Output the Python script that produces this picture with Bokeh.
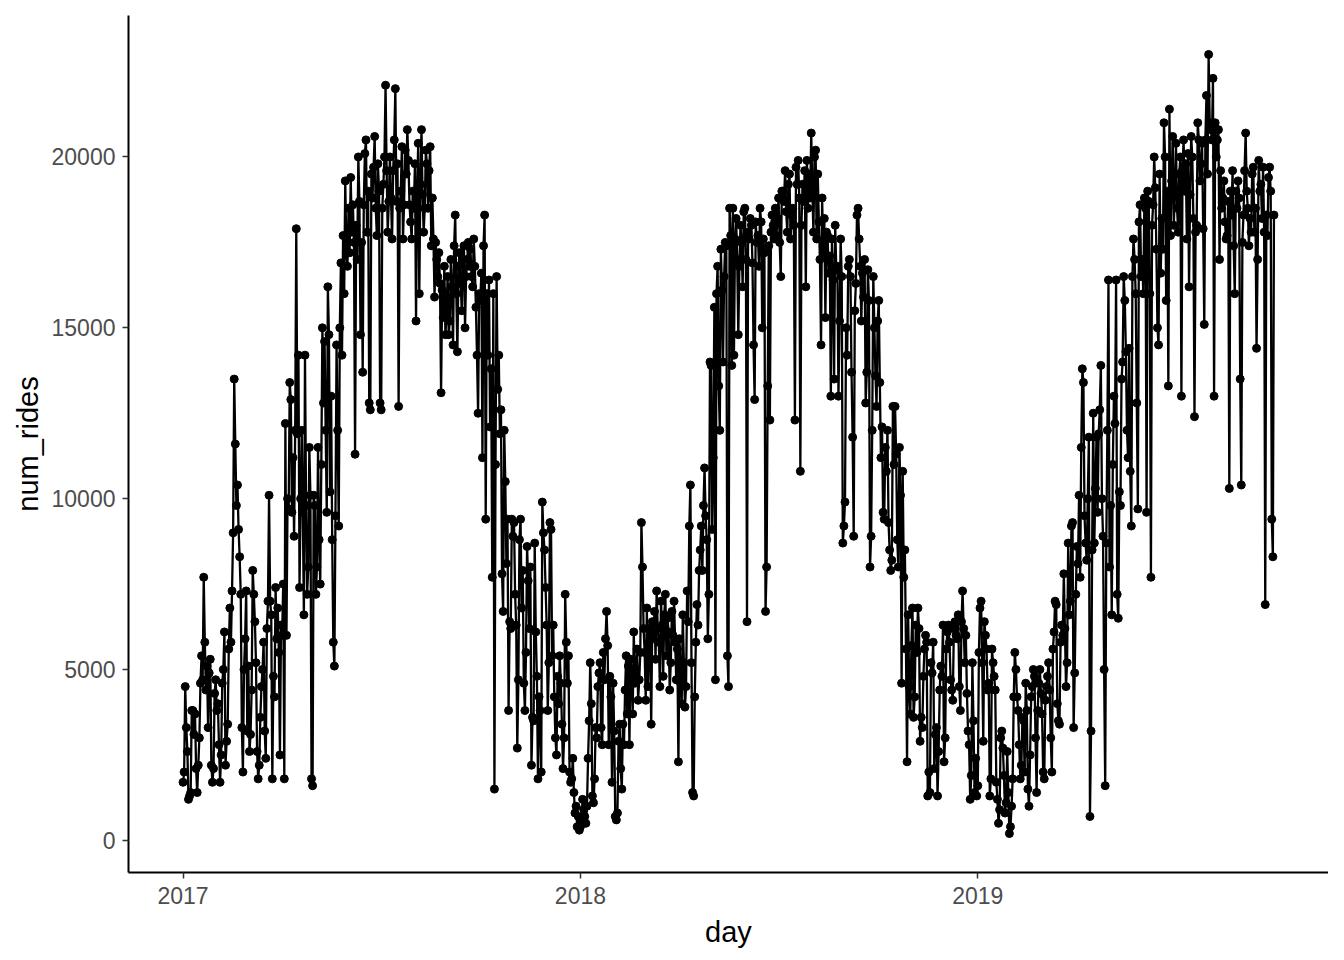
import datetime as dt
from bokeh.plotting import figure
from bokeh.models import FixedTicker, DatetimeTickFormatter, Range1d, ColumnDataSource
from bokeh.embed import file_html
from bokeh.resources import INLINE

# Daily ride counts, in hundreds of rides (one list per month)
jan_2017 = [17, 20, 45, 33, 26, 12, 13, 14, 38, 38, 31, 37, 21, 14, 22, 30, 46, 54, 47, 77, 58,
            44, 51, 33, 49, 53, 22, 17, 21, 43, 47]
feb_2017 = [38, 40, 28, 17, 25, 46, 50, 61, 22, 29, 34, 56, 68, 58, 73, 90, 135, 116,
            98, 104, 91, 83, 72, 33, 20, 50, 59, 73]
mar_2017 = [32, 51, 26, 31, 44, 79, 72, 64, 52, 26, 18, 22, 36, 45, 50, 58, 32, 24,
            62, 70, 101, 70, 66, 18, 48, 42, 74, 59, 68, 55, 25]
apr_2017 = [63, 60, 75, 18, 122, 60, 100, 97, 134, 129, 96, 112, 89, 120, 179,
            119, 142, 74, 100, 120, 96, 66, 142, 98, 72, 80, 115, 101, 18, 16]
may_2017 = [101, 98, 72, 80, 115, 88, 75, 110, 150, 128, 146, 120, 96, 162, 148, 102, 130, 88, 58, 51,
            95, 145, 120, 92, 150, 169, 142, 177, 160, 193, 172]
jun_2017 = [168, 185, 172, 194, 178, 186, 175, 113, 180, 170, 200, 187, 148, 175, 137, 186, 201,
            205, 178, 190, 128, 126, 195, 188, 197, 206, 185, 177, 198, 190]
jul_2017 = [128, 126, 185, 192, 200, 221, 196, 178, 187, 200, 188, 176, 196, 205, 220,
            187, 198, 127, 185, 190, 203, 176, 186, 202, 195, 208, 199, 186, 181, 176, 190]
aug_2017 = [185, 198, 152, 190, 204, 160, 192, 208, 189, 178, 185, 202, 198, 185, 196, 203, 174, 188, 176,
            159, 175, 170, 165, 172, 163, 131, 161, 153, 168, 148, 154]
sep_2017 = [165, 148, 152, 170, 162, 145, 174, 183, 160, 143, 168, 172, 163, 155, 170, 174,
            150, 165, 170, 175, 168, 173, 165, 162, 176, 168, 156, 142, 125, 160]
oct_2017 = [158, 166, 112, 174, 183, 94, 160, 142, 164, 121, 138, 77, 160, 15, 110, 165, 132, 142, 119, 126, 78,
            67, 120, 105, 81, 94, 38, 64, 62, 94, 89]
nov_2017 = [93, 72, 63, 27, 47, 88, 94, 68, 79, 46, 38, 55, 86, 76, 62, 80, 22, 36,
            35, 87, 61, 48, 18, 42, 38, 20, 99, 90, 85, 74]
dec_2017 = [63, 38, 52, 93, 91, 54, 63, 42, 30, 25, 48, 40, 54, 46, 34, 21, 30, 72, 58, 46, 54, 20, 17,
            18, 24, 14, 8, 10, 4, 7, 3]

jan_2018 = [4, 6, 12, 9, 7, 5, 10, 24, 35, 52, 40, 13, 11, 18, 33, 30, 45, 49, 52, 33,
            28, 55, 47, 59, 67, 57, 28, 48, 42, 17, 46]
feb_2018 = [32, 7, 6, 8, 29, 34, 21, 15, 34, 28, 44, 54, 37, 51, 28, 53, 49,
            37, 61, 46, 50, 56, 41, 47, 55, 93, 80, 62]
mar_2018 = [55, 41, 68, 45, 62, 60, 34, 64, 59, 67, 53, 73, 62, 58, 45, 70, 63,
            48, 66, 72, 54, 65, 61, 44, 52, 67, 60, 70, 58, 47, 56]
apr_2018 = [23, 59, 46, 40, 66, 52, 39, 45, 73, 64, 92, 104, 52, 14, 13, 42, 58, 69, 63, 79, 85,
            92, 79, 98, 109, 95, 88, 59, 72, 140]
may_2018 = [139, 91, 112, 156, 47, 160, 168, 133, 120, 173, 161, 140, 165, 175, 174, 54, 45, 185, 177,
            139, 185, 142, 176, 182, 170, 148, 168, 180, 175, 162, 184]
jun_2018 = [185, 170, 64, 178, 176, 182, 180, 169, 145, 129, 181, 175, 177, 168, 185, 181,
            150, 176, 172, 67, 80, 133, 174, 123, 178, 183, 180, 176, 185, 177]
jul_2018 = [182, 188, 175, 165, 190, 190, 187, 196, 184, 178, 192, 195, 176, 183, 185, 180, 123, 197, 192, 199, 188,
            108, 180, 192, 187, 196, 162, 199, 185, 195, 188]
aug_2018 = [207, 190, 178, 200, 202, 176, 195, 181, 170, 145, 188, 172, 182, 153, 178, 177, 166, 171,
            130, 176, 164, 135, 180, 167, 168, 130, 152, 176, 165, 87, 92]
sep_2018 = [99, 150, 142, 168, 170, 165, 137, 118, 89, 155, 163, 183, 185, 176, 168,
            152, 166, 159, 170, 128, 137, 167, 158, 80, 89, 120, 165, 150, 136, 127]
oct_2018 = [152, 158, 134, 112, 121, 96, 94, 115, 108, 120, 93, 85, 79, 82, 127, 110, 127, 113, 88, 80,
            115, 101, 46, 108, 77, 85, 56, 23, 66, 45, 37]
nov_2018 = [57, 68, 36, 42, 63, 55, 68, 62, 29, 36, 33, 48, 56, 60, 58, 13, 20,
            14, 52, 49, 58, 21, 31, 33, 13, 26, 44, 51, 48, 63]
dec_2018 = [23, 30, 56, 61, 63, 58, 47, 44, 41, 62, 64, 60, 59, 66, 45, 38, 64, 73, 62, 52, 60, 43,
            32, 28, 12, 19, 52, 35, 14, 24, 13]

jan_2019 = [16, 55, 68, 70, 52, 29, 64, 60, 56, 44, 46, 13, 18, 56, 52, 48, 44, 17, 12,
            5, 9, 30, 32, 27, 19, 8, 11, 26, 14, 2, 4]
feb_2019 = [10, 18, 42, 55, 50, 42, 38, 28, 18, 22, 36, 35, 20, 46, 38, 15,
            10, 25, 42, 45, 50, 48, 30, 14, 38, 46, 50, 43]
mar_2019 = [37, 20, 18, 41, 45, 48, 52, 44, 30, 20, 56, 61, 70, 69, 40, 35,
            34, 58, 63, 60, 78, 62, 45, 52, 87, 66, 70, 92, 93, 33, 49]
apr_2019 = [72, 86, 81, 101, 77, 115, 138, 134, 95, 87, 82, 100, 118, 7, 32, 85, 125, 87, 103, 118,
            96, 119, 126, 139, 100, 89, 50, 16, 87, 120]
may_2019 = [164, 80, 98, 66, 110, 130, 122, 164, 72, 65, 102, 98, 135, 140, 165, 158, 143, 120,
            112, 144, 108, 92, 165, 176, 170, 160, 128, 97, 181, 186, 165]
jun_2019 = [170, 160, 188, 185, 96, 190, 187, 160, 77, 180, 186, 200, 191, 173, 150,
            145, 195, 166, 182, 173, 210, 200, 158, 190, 133, 214, 177, 193, 206, 180]
jul_2019 = [190, 204, 185, 178, 195, 200, 130, 196, 205, 190, 198, 176, 201, 162, 189, 206, 200, 182, 124, 178,
            180, 210, 205, 193, 198, 204, 179, 151, 205, 218, 195]
aug_2019 = [230, 210, 208, 205, 223, 130, 210, 200, 205, 208, 170, 196, 185, 188, 193, 181, 176,
            177, 187, 103, 190, 183, 196, 174, 160, 190, 185, 193, 188, 135, 104]
sep_2019 = [175, 183, 196, 207, 190, 185, 174, 182, 178, 195, 197, 178, 185, 144, 170, 199, 190, 192, 182, 197, 178,
            69, 183, 177, 194, 197, 190, 94, 83, 183]

months = [jan_2017, feb_2017, mar_2017, apr_2017, may_2017, jun_2017, jul_2017, aug_2017, sep_2017,
          oct_2017, nov_2017, dec_2017,
          jan_2018, feb_2018, mar_2018, apr_2018, may_2018, jun_2018, jul_2018, aug_2018, sep_2018,
          oct_2018, nov_2018, dec_2018,
          jan_2019, feb_2019, mar_2019, apr_2019, may_2019, jun_2019, jul_2019, aug_2019, sep_2019]

first_day = dt.datetime(2017, 1, 1)
tick_years = [2017, 2018, 2019]
y_ticks = [0, 5000, 10000, 15000, 20000]

num_rides = [v * 100 for m in months for v in m]
day = [first_day + dt.timedelta(days=i) for i in range(len(num_rides))]

src = ColumnDataSource(data=dict(day=day, num_rides=num_rides))

# ggplot-style 5% expansion of the data ranges
x_span = day[-1] - day[0]
x_pad = x_span * 0.05
y_lo, y_hi = min(num_rides), max(num_rides)
y_pad = (y_hi - y_lo) * 0.05

p = figure(width=1328, height=955, x_axis_type="datetime",
           output_backend="svg", toolbar_location=None,
           x_range=Range1d(day[0] - x_pad, day[-1] + x_pad),
           y_range=Range1d(y_lo - y_pad, y_hi + y_pad),
           min_border_left=128, min_border_right=0, min_border_top=15, min_border_bottom=83)

p.line("day", "num_rides", source=src, line_color="black", line_width=2.3)
p.scatter("day", "num_rides", source=src, size=8, fill_color="black", line_color="black")

tick_ms = [dt.datetime(y, 1, 1).replace(tzinfo=dt.timezone.utc).timestamp() * 1000 for y in tick_years]
p.xaxis.ticker = FixedTicker(ticks=tick_ms)
p.xaxis.formatter = DatetimeTickFormatter(years="%Y", months="%Y", days="%Y", hours="%Y",
                                          hourmin="%Y", minutes="%Y", minsec="%Y",
                                          seconds="%Y", milliseconds="%Y", microseconds="%Y")
p.yaxis.ticker = FixedTicker(ticks=y_ticks)
p.yaxis.formatter.use_scientific = False

p.xaxis.axis_label = "day"
p.yaxis.axis_label = "num_rides"

for ax in (p.xaxis, p.yaxis):
    ax.axis_line_color = "black"
    ax.axis_line_width = 2
    ax.major_tick_line_color = "#333333"
    ax.major_tick_line_width = 1.5
    ax.major_tick_out = 6
    ax.major_tick_in = 0
    ax.minor_tick_line_color = None
    ax.major_label_text_font = "Liberation Sans"
    ax.major_label_text_font_size = "23px"
    ax.major_label_text_color = "#4D4D4D"
    ax.axis_label_text_font = "Liberation Sans"
    ax.axis_label_text_font_size = "29px"
    ax.axis_label_text_font_style = "normal"
    ax.axis_label_text_color = "black"

p.xaxis.major_label_standoff = 8
p.xaxis.axis_label_standoff = 9
p.yaxis.major_label_standoff = 7
p.yaxis.axis_label_standoff = 5

p.xgrid.grid_line_color = None
p.ygrid.grid_line_color = None
p.outline_line_color = None
p.background_fill_color = "white"
p.border_fill_color = "white"

open("out.html", "w").write(file_html(p, INLINE))
